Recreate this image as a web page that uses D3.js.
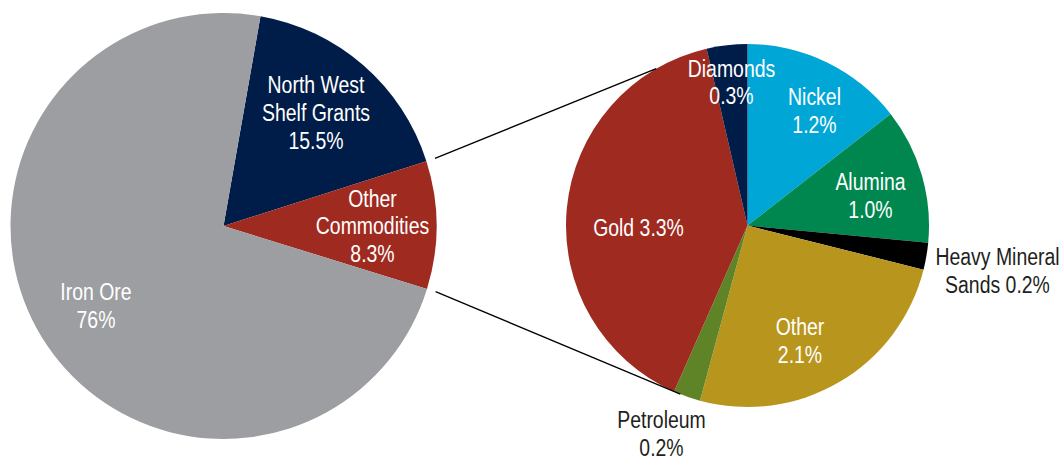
<!DOCTYPE html>
<html>
<head>
<meta charset="utf-8">
<script src="https://cdn.jsdelivr.net/npm/d3@7"></script>
<style>
html, body { margin: 0; padding: 0; background: #ffffff; }
svg { display: block; }
text { font-family: "Liberation Sans", Arial, "Roboto", sans-serif; font-size: 24px; }
</style>
</head>
<body>
<svg id="chart" width="1064" height="475"></svg>
<script>
// ---- Data ----
// Left pie: shares as drawn in the picture (slice angles), with printed labels
const leftCategories = ["North West Shelf Grants", "Other Commodities", "Iron Ore"];
const leftShares = [17.3, 9.7, 73.0];
const leftLabels = [["North West", "Shelf Grants", "15.5%"], ["Other", "Commodities", "8.3%"], ["Iron Ore", "76%"]];

// Right pie: breakdown of "Other Commodities" (per cent)
const rightCategories = ["Nickel", "Alumina", "Heavy Mineral Sands", "Other", "Petroleum", "Gold", "Diamonds"];
const rightValues = [1.2, 1.0, 0.2, 2.1, 0.2, 3.3, 0.3];
const rightLabels = [["Nickel", "1.2%"], ["Alumina", "1.0%"], ["Heavy Mineral", "Sands 0.2%"], ["Other", "2.1%"], ["Petroleum", "0.2%"], ["Gold 3.3%"], ["Diamonds", "0.3%"]];

// ---- Styles / layout ----
const leftColors = ["#001c48", "#9f2a20", "#9c9ea1"];
const rightColors = ["#00a6d6", "#00874f", "#000000", "#b8961e", "#5f8428", "#9f2a20", "#001c48"];
const rightTextColors = ["#fff", "#fff", "#231f20", "#fff", "#231f20", "#fff", "#fff"];

const L = { cx: 223.5, cy: 226, r: 213, start: 10 };
const R = { cx: 747.5, cy: 225.5, r: 181.5, start: 0 };

// label anchors: offset from pie centre (x centre, first baseline), line height
const leftLabelPos = [{ dx: 92.5, dy: -133 }, { dx: 149, dy: -19.3 }, { dx: -127.5, dy: 74 }];
const rightLabelPos = [{ dx: 67, dy: -120.5 }, { dx: 123, dy: -35.5 }, { dx: 250, dy: 39.5 },
                       { dx: 52.5, dy: 109.5 }, { dx: -86, dy: 202.8 }, { dx: -109, dy: 10.2 }, { dx: -16, dy: -148.8 }];
const lineH = 27.8;
const narrow = 0.81; // horizontal squeeze to mimic a condensed face

// connector end angles on the breakdown pie (degrees, clockwise from 12 o'clock)
const connectorEnds = [329.8, 201.7];

const svg = d3.select("#chart");
const rad = d => d * Math.PI / 180;

function drawPie(cfg, values, colors) {
  const pie = d3.pie().sort(null).value(d => d)
    .startAngle(rad(cfg.start)).endAngle(rad(cfg.start + 360));
  const arcs = pie(values);
  const arc = d3.arc().innerRadius(0).outerRadius(cfg.r);
  const g = svg.append("g").attr("transform", `translate(${cfg.cx},${cfg.cy})`);
  g.selectAll("path").data(arcs).join("path")
    .attr("d", arc)
    .attr("fill", (d, i) => colors[i]);
  return { arcs, g };
}

const left = drawPie(L, leftShares, leftColors);
const right = drawPie(R, rightValues, rightColors);

function labels(g, lines, pos, fills) {
  lines.forEach((ls, i) => {
    const t = g.append("g")
      .attr("transform", `translate(${pos[i].dx},${pos[i].dy}) scale(${narrow},1)`)
      .append("text")
      .attr("text-anchor", "middle")
      .attr("fill", fills[i]);
    ls.forEach((s, j) => {
      t.append("tspan")
        .attr("x", 0)
        .attr("y", j * lineH)
        .text(s);
    });
  });
}
labels(left.g, leftLabels, leftLabelPos, ["#fff", "#fff", "#fff"]);
labels(right.g, rightLabels, rightLabelPos, rightTextColors);

// connector lines from the "Other Commodities" slice edges to the breakdown pie
const polar = (cfg, angDeg, r) => [cfg.cx + r * Math.sin(rad(angDeg)), cfg.cy - r * Math.cos(rad(angDeg))];
const oc = left.arcs[1];
const fromAngles = [oc.startAngle * 180 / Math.PI, oc.endAngle * 180 / Math.PI];
connectorEnds.forEach((to, i) => {
  const p0 = polar(L, fromAngles[i], L.r + 9);
  const p1 = polar(R, to, R.r);
  svg.append("line")
    .attr("x1", p0[0]).attr("y1", p0[1])
    .attr("x2", p1[0]).attr("y2", p1[1])
    .attr("stroke", "#000")
    .attr("stroke-width", 1.3);
});
</script>
</body>
</html>
